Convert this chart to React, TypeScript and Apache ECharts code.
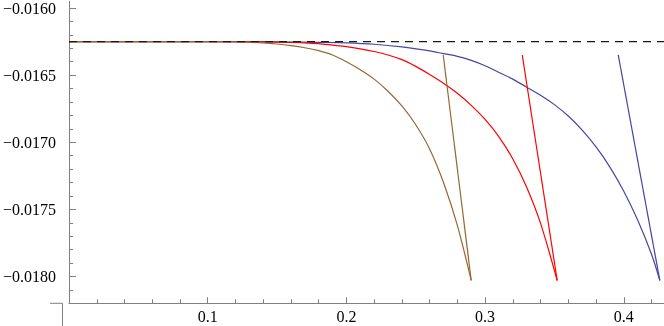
import React, { useEffect, useRef } from "react";
import * as echarts from "echarts";

// Reference level (dashed line)
const refLevel = -0.01625;
const dashX = [0, 0.429];

// Brown curve
const brownX = [0, 0.05, 0.1, 0.12, 0.14, 0.15, 0.16, 0.17, 0.18, 0.19, 0.2, 0.21, 0.22, 0.23, 0.24, 0.25, 0.26, 0.27, 0.28, 0.29];
const brownY = [-0.01625, -0.01625, -0.016251, -0.016253, -0.01626, -0.016268, -0.01628, -0.016296, -0.016318, -0.01635, -0.0164, -0.01646, -0.01653, -0.01662, -0.01673, -0.01687, -0.01705, -0.0173, -0.01762, -0.01803];

// Red curve
const redX = [0, 0.1, 0.14, 0.16, 0.17, 0.18, 0.19, 0.2, 0.21, 0.22, 0.23, 0.24, 0.25, 0.26, 0.27, 0.28, 0.29, 0.3, 0.31, 0.32, 0.33, 0.34, 0.352];
const redY = [-0.01625, -0.01625, -0.016253, -0.016257, -0.01626, -0.016266, -0.016277, -0.016288, -0.016304, -0.016324, -0.01635, -0.016385, -0.016435, -0.016495, -0.01656, -0.016635, -0.016725, -0.01683, -0.01696, -0.017125, -0.017335, -0.017605, -0.01803];

// Blue curve
const blueX = [0, 0.1, 0.15, 0.18, 0.2, 0.22, 0.24, 0.26, 0.27, 0.28, 0.29, 0.3, 0.31, 0.32, 0.33, 0.34, 0.35, 0.36, 0.37, 0.38, 0.39, 0.4, 0.41, 0.42, 0.426];
const blueY = [-0.01625, -0.01625, -0.016252, -0.016256, -0.01626, -0.01627, -0.01629, -0.01632, -0.01634, -0.01636, -0.01639, -0.01643, -0.01648, -0.01653, -0.01659, -0.01665, -0.01672, -0.016805, -0.01691, -0.017035, -0.017185, -0.017365, -0.01758, -0.017835, -0.01803];

// Straight segments
const brownSegX = [0.2698, 0.29];
const redSegX = [0.3268, 0.352];
const blueSegX = [0.396, 0.426];
const segY = [-0.01635, -0.01803];

// Ticks
const xMajorTicks = [0.1, 0.2, 0.3, 0.4];
const xMinorTicks = [0.02, 0.04, 0.06, 0.08, 0.12, 0.14, 0.16, 0.18, 0.22, 0.24, 0.26, 0.28, 0.32, 0.34, 0.36, 0.38, 0.42];
const yMajorTicks = [-0.018, -0.0175, -0.017, -0.0165, -0.016];
const yMinorTicks = [-0.0182, -0.0181, -0.0179, -0.0178, -0.0177, -0.0176, -0.0174, -0.0173, -0.0172, -0.0171, -0.0169, -0.0168, -0.0167, -0.0166, -0.0164, -0.0163, -0.0162, -0.0161];

const zip = (xs: number[], ys: number[]) => xs.map((x, i) => [x, ys[i]]);

const AXIS_COLOR = "#808080";
const FONT = "'Liberation Serif', 'DejaVu Serif', serif";

export default function App() {
  const ref = useRef<HTMLDivElement>(null);
  useEffect(() => {
    if (!ref.current) return;
    const chart = echarts.init(ref.current, undefined, { renderer: "svg" });
    const xMin = 0, xMax = 0.429, yMin = -0.0182, yMax = -0.01595;
    const baseX = {
      type: "value" as const,
      min: xMin,
      max: xMax,
      splitLine: { show: false },
    };
    const baseY = {
      type: "value" as const,
      min: yMin,
      max: yMax,
      splitLine: { show: false },
    };
    const line = (data: number[][], color: string, extra: any = {}) => ({
      type: "line",
      data,
      showSymbol: false,
      symbol: "none",
      smooth: 0.3,
      lineStyle: { color, width: 1.2 },
      silent: true,
      ...extra,
    });
    chart.setOption({
      animation: false,
      grid: { left: 62.5, right: 0, top: 0, bottom: 22.7, containLabel: false },
      xAxis: [
        {
          ...baseX,
          axisLine: { show: true, lineStyle: { color: AXIS_COLOR, width: 1 } },
          axisTick: { show: true, inside: true, length: 6, customValues: xMajorTicks, lineStyle: { color: AXIS_COLOR } },
          axisLabel: {
            show: true,
            customValues: xMajorTicks,
            margin: 5,
            color: "#000",
            fontFamily: FONT,
            fontSize: 16,
            formatter: (v: number) => v.toFixed(1),
          },
        },
        {
          ...baseX,
          position: "bottom",
          axisLine: { show: false },
          axisTick: { show: true, inside: true, length: 4, customValues: xMinorTicks, lineStyle: { color: AXIS_COLOR } },
          axisLabel: { show: false },
        },
      ],
      yAxis: [
        {
          ...baseY,
          axisLine: { show: true, lineStyle: { color: AXIS_COLOR, width: 1 } },
          axisTick: { show: true, inside: true, length: 7, customValues: yMajorTicks, lineStyle: { color: AXIS_COLOR } },
          axisLabel: {
            show: true,
            customValues: yMajorTicks,
            margin: 13,
            color: "#000",
            fontFamily: FONT,
            fontSize: 16,
            formatter: (v: number) => v.toFixed(4).replace("-", "\u2212"),
          },
        },
        {
          ...baseY,
          position: "left",
          axisLine: { show: false },
          axisTick: { show: true, inside: true, length: 4, customValues: yMinorTicks, lineStyle: { color: AXIS_COLOR } },
          axisLabel: { show: false },
        },
      ],
      graphic: [
        { type: "line", shape: { x1: 50, y1: 303.3, x2: 62.5, y2: 303.3 }, style: { stroke: AXIS_COLOR, lineWidth: 1 }, silent: true },
        { type: "line", shape: { x1: 62.5, y1: 303.3, x2: 62.5, y2: 326 }, style: { stroke: AXIS_COLOR, lineWidth: 1 }, silent: true },
      ],
      series: [
        line(zip(blueX, blueY), "#4646a0"),
        line(zip(redX, redY), "#ff0000"),
        line(zip(brownX, brownY), "#996633"),
        line(zip(blueSegX, segY), "#4646a0", { smooth: false }),
        line(zip(redSegX, segY), "#ff0000", { smooth: false }),
        line(zip(brownSegX, segY), "#996633", { smooth: false }),
        line(zip(dashX, [refLevel, refLevel]), "#000", {
          smooth: false,
          lineStyle: { color: "#1a1a1a", width: 1.3, type: [8, 6] },
        }),
      ],
    });
    return () => chart.dispose();
  }, []);
  return (
    <div
      ref={ref}
      style={{ position: "fixed", left: 0, top: 0, width: 664, height: 326 }}
    />
  );
}
